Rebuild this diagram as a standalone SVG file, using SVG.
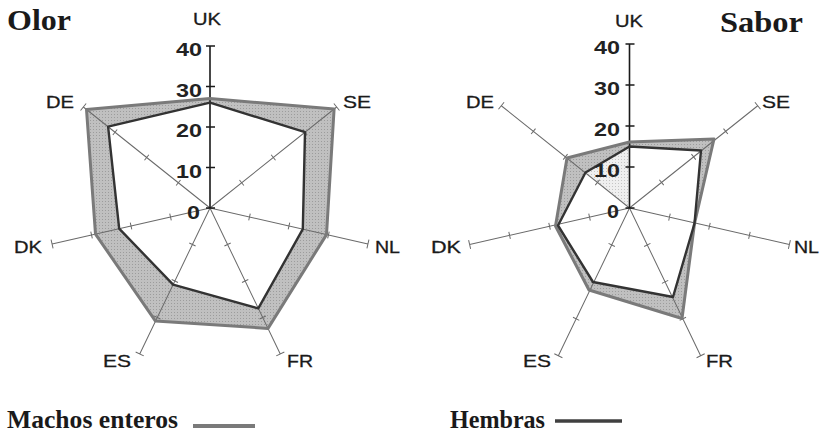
<svg xmlns="http://www.w3.org/2000/svg" width="822" height="435" viewBox="0 0 822 435">
<style>
.ax{stroke:#6a6a6a;stroke-width:1;fill:none}
.uk{stroke:#1a1a1a;stroke-width:1.6;fill:none}
.band{fill:url(#stip);stroke:none}
.inner{fill:#ffffff;stroke:none}
.lite{fill:url(#light);stroke:none}
.mline{fill:none;stroke:#7a7a7a;stroke-width:3;stroke-linejoin:round}
.hline{fill:none;stroke:#333333;stroke-width:2.4;stroke-linejoin:round}
.lab{font-family:"Liberation Sans",Arial,sans-serif;font-size:17px;fill:#1a1a1a;stroke:#1a1a1a;stroke-width:0.3}
.num{font-family:"Liberation Sans",Arial,sans-serif;font-size:19px;font-weight:bold;fill:#222222;text-anchor:end}
.title{font-family:"Liberation Serif","Times New Roman",serif;font-weight:bold;font-size:30px;fill:#1a1a1a}
.leg{font-family:"Liberation Serif","Times New Roman",serif;font-weight:bold;font-size:25px;fill:#1a1a1a}
</style>
<defs>
<pattern id="stip" width="3" height="3" patternUnits="userSpaceOnUse"><rect width="3" height="3" fill="#c0c0c0"/><rect width="1" height="1" fill="#9c9c9c"/></pattern>
<pattern id="light" width="3" height="3" patternUnits="userSpaceOnUse"><rect width="3" height="3" fill="#efefef"/><rect width="1" height="1" fill="#c4c4c4"/></pattern>
<path id="axO" d="M0,0V-162M-3.5,-40.5H3.5M-3.5,-81H3.5M-3.5,-121.5H3.5M-4.5,-162H4.5"/>
<path id="ukO" d="M0,0V-162M-4,0H5M-4,-40.5H5M-4,-81H5M-4,-121.5H5M-4,-162H5"/>
<path id="axS" d="M0,0V-164M-3.5,-41H3.5M-3.5,-82H3.5M-3.5,-123H3.5M-4.5,-164H4.5"/>
<path id="ukS" d="M0,0V-164M-4,0H5M-4,-41H5M-4,-82H5M-4,-123H5M-4,-164H5"/>
</defs>

<g id="olor">
<text class="title" x="7" y="30" textLength="64" lengthAdjust="spacingAndGlyphs">Olor</text>
<g id="olor-areas">
<polygon class="band" points="210,98.6 334.1,109 326.5,234.6 268,328.4 155.5,321.1 95.5,234.1 86.5,109.5"/>
<polygon class="inner" points="210,102.7 305,132.2 302.8,229.2 258.3,308.4 173.1,284.6 119.2,228.7 108.1,126.7"/>
</g>
<g id="olor-axes">
<use href="#axO" class="ax" transform="translate(210,208) rotate(51.43)"/>
<use href="#axO" class="ax" transform="translate(210,208) rotate(102.86)"/>
<use href="#axO" class="ax" transform="translate(210,208) rotate(154.29)"/>
<use href="#axO" class="ax" transform="translate(210,208) rotate(205.71)"/>
<use href="#axO" class="ax" transform="translate(210,208) rotate(257.14)"/>
<use href="#axO" class="ax" transform="translate(210,208) rotate(308.57)"/>
<use href="#ukO" class="uk" transform="translate(210,208)"/>
</g>
<g id="olor-lines">
<polygon class="mline" points="210,98.6 334.1,109 326.5,234.6 268,328.4 155.5,321.1 95.5,234.1 86.5,109.5"/>
<polygon class="hline" points="210,102.7 305,132.2 302.8,229.2 258.3,308.4 173.1,284.6 119.2,228.7 108.1,126.7"/>
</g>
<g id="olor-scale">
<text class="num" x="202" y="56" textLength="26" lengthAdjust="spacingAndGlyphs">40</text>
<text class="num" x="202" y="97" textLength="26" lengthAdjust="spacingAndGlyphs">30</text>
<text class="num" x="202" y="137" textLength="26" lengthAdjust="spacingAndGlyphs">20</text>
<text class="num" x="202" y="178" textLength="26" lengthAdjust="spacingAndGlyphs">10</text>
<text class="num" x="200" y="219" textLength="13" lengthAdjust="spacingAndGlyphs">0</text>
</g>
<g id="olor-labels">
<text class="lab" x="193" y="25" textLength="28" lengthAdjust="spacingAndGlyphs">UK</text>
<text class="lab" x="46" y="108" textLength="28" lengthAdjust="spacingAndGlyphs">DE</text>
<text class="lab" x="343" y="108" textLength="28" lengthAdjust="spacingAndGlyphs">SE</text>
<text class="lab" x="14" y="253" textLength="28" lengthAdjust="spacingAndGlyphs">DK</text>
<text class="lab" x="375" y="253" textLength="25" lengthAdjust="spacingAndGlyphs">NL</text>
<text class="lab" x="103" y="367" textLength="28" lengthAdjust="spacingAndGlyphs">ES</text>
<text class="lab" x="287" y="367" textLength="26" lengthAdjust="spacingAndGlyphs">FR</text>
</g>
</g>

<g id="sabor">
<text class="title" x="720" y="32" textLength="83" lengthAdjust="spacingAndGlyphs">Sabor</text>
<g id="sabor-areas">
<polygon class="band" points="629.5,142 714,139 694.5,223.5 682,318.5 589,290 555.5,226 567,158"/>
<polygon class="inner" points="629.5,146.5 701,150.5 694.5,223.5 673,297 593,282 558,225.5 585.5,172.5"/>
<polygon class="lite" points="629.5,208 585.5,172.5 629.5,146.5"/>
</g>
<g id="sabor-axes">
<use href="#axS" class="ax" transform="translate(629.5,208) rotate(51.43)"/>
<use href="#axS" class="ax" transform="translate(629.5,208) rotate(102.86)"/>
<use href="#axS" class="ax" transform="translate(629.5,208) rotate(154.29)"/>
<use href="#axS" class="ax" transform="translate(629.5,208) rotate(205.71)"/>
<use href="#axS" class="ax" transform="translate(629.5,208) rotate(257.14)"/>
<use href="#axS" class="ax" transform="translate(629.5,208) rotate(308.57)"/>
<use href="#ukS" class="uk" transform="translate(629.5,208)"/>
</g>
<g id="sabor-lines">
<polygon class="mline" points="629.5,142 714,139 694.5,223.5 682,318.5 589,290 555.5,226 567,158"/>
<polygon class="hline" points="629.5,146.5 701,150.5 694.5,223.5 673,297 593,282 558,225.5 585.5,172.5"/>
</g>
<g id="sabor-scale">
<text class="num" x="620" y="54" textLength="26" lengthAdjust="spacingAndGlyphs">40</text>
<text class="num" x="620" y="95" textLength="26" lengthAdjust="spacingAndGlyphs">30</text>
<text class="num" x="620" y="136" textLength="26" lengthAdjust="spacingAndGlyphs">20</text>
<text class="num" x="620" y="177" textLength="26" lengthAdjust="spacingAndGlyphs">10</text>
<text class="num" x="619" y="218" textLength="12" lengthAdjust="spacingAndGlyphs">0</text>
</g>
<g id="sabor-labels">
<text class="lab" x="615" y="27" textLength="28" lengthAdjust="spacingAndGlyphs">UK</text>
<text class="lab" x="466" y="108" textLength="28" lengthAdjust="spacingAndGlyphs">DE</text>
<text class="lab" x="762" y="108" textLength="28" lengthAdjust="spacingAndGlyphs">SE</text>
<text class="lab" x="431" y="253" textLength="30" lengthAdjust="spacingAndGlyphs">DK</text>
<text class="lab" x="794" y="253" textLength="25" lengthAdjust="spacingAndGlyphs">NL</text>
<text class="lab" x="523" y="367" textLength="28" lengthAdjust="spacingAndGlyphs">ES</text>
<text class="lab" x="706" y="367" textLength="27" lengthAdjust="spacingAndGlyphs">FR</text>
</g>
</g>

<g id="legend">
<text class="leg" x="7" y="428" textLength="171" lengthAdjust="spacingAndGlyphs">Machos enteros</text>
<line x1="193" y1="426" x2="255" y2="426" stroke="#7a7a7a" stroke-width="4"/>
<text class="leg" x="450" y="428" textLength="95" lengthAdjust="spacingAndGlyphs">Hembras</text>
<line x1="555" y1="421" x2="622" y2="421" stroke="#404040" stroke-width="3.5"/>
</g>
</svg>
